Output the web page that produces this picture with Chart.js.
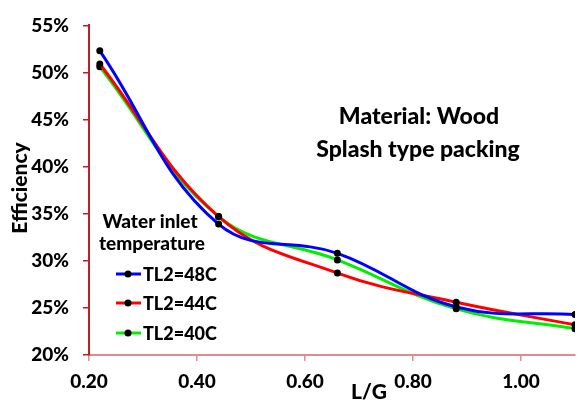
<!DOCTYPE html>
<html>
<head>
<meta charset="utf-8">
<script src="https://cdn.jsdelivr.net/npm/chart.js@4.4.0/dist/chart.umd.min.js"></script>
<style>
  html, body { margin: 0; padding: 0; background: #fff; }
  #wrap { width: 579px; height: 402px; position: relative; }
</style>
</head>
<body>
<div id="wrap"><canvas id="myChart" width="579" height="402"></canvas></div>
<script>

// data
var lgValues = [0.22, 0.44, 0.66, 0.88, 1.10];

var seriesNames = ["TL2=48C", "TL2=44C", "TL2=40C"];

var eff48 = [52.3, 33.9, 30.8, 25.1, 24.3];
var eff44 = [50.9, 34.7, 28.7, 25.6, 23.2];
var eff40 = [50.6, 34.7, 30.1, 24.9, 22.8];

var lineColors = ["#0000ff", "#ff0000", "#00ee00"];

var FONT = "Lato, 'Liberation Sans', sans-serif";
var W = "900";

function toPoints(vals) {
  return lgValues.map(function(x, i) { return { x: x, y: vals[i] }; });
}

var allSeries = [eff48, eff44, eff40];
var datasets = allSeries.map(function(vals, i) {
  return {
    label: seriesNames[i],
    data: toPoints(vals),
    borderColor: lineColors[i],
    backgroundColor: "#000",
    borderWidth: 3,
    pointRadius: 3.5,
    pointBorderWidth: 0,
    pointBackgroundColor: "#000",
    tension: 0.4,
    fill: false
  };
});

// texts + legend drawn inside the plot, like the original
var textPlugin = {
  id: "texts",
  afterDraw: function(chart) {
    var ctx = chart.ctx;
    ctx.save();
    ctx.fillStyle = "#000";
    ctx.textBaseline = "middle";

    // annotation
    ctx.textAlign = "center";
    ctx.font = W + " 23px " + FONT;
    ctx.fillText("Material: Wood", 419, 117);
    ctx.fillText("Splash type packing", 418, 150);

    // axis titles
    ctx.font = W + " 21px " + FONT;
    ctx.fillText("L/G", 369, 392);
    ctx.save();
    ctx.translate(20, 188);
    ctx.rotate(-Math.PI / 2);
    ctx.fillText("Efficiency", 0, 0);
    ctx.restore();

    // legend
    ctx.font = W + " 19px " + FONT;
    ctx.fillText("Water inlet", 150, 222);
    ctx.fillText("temperature", 152, 244);
    ctx.font = W + " 18px " + FONT;
    var ys = [274, 303, 333];
    chart.data.datasets.forEach(function(ds, i) {
      var y = ys[i];
      ctx.strokeStyle = ds.borderColor;
      ctx.lineWidth = 3;
      ctx.beginPath();
      ctx.moveTo(116, y);
      ctx.lineTo(141, y);
      ctx.stroke();
      ctx.fillStyle = "#000";
      ctx.beginPath();
      ctx.arc(128, y, 3.5, 0, Math.PI * 2);
      ctx.fill();
      ctx.textAlign = "left";
      ctx.fillText(ds.label, 143, y + 1);
    });
    ctx.restore();
  }
};

new Chart("myChart", {
  type: "line",
  data: { datasets: datasets },
  options: {
    responsive: false,
    animation: false,
    layout: { padding: { top: 21, right: 0, left: 0, bottom: 0 } },
    plugins: {
      legend: { display: false },
      tooltip: { enabled: false }
    },
    scales: {
      x: {
        type: "linear",
        min: 0.2,
        max: 1.1,
        border: { color: "#de8c8c", width: 2 },
        grid: { drawOnChartArea: false, drawTicks: true, tickLength: 6, color: "#de8c8c", lineWidth: 1.5 },
        ticks: {
          stepSize: 0.2,
          includeBounds: false,
          padding: 9,
          color: "#000",
          font: { family: FONT, size: 19, weight: W },
          callback: function(v) { return v.toFixed(2); }
        },
        afterFit: function(scale) { scale.height = 47; }
      },
      y: {
        min: 20,
        max: 55,
        border: { color: "#c01e2a", width: 2 },
        grid: { drawOnChartArea: false, drawTicks: true, tickLength: 6, color: "#c01e2a", lineWidth: 1.5 },
        ticks: {
          stepSize: 5,
          padding: 14,
          color: "#000",
          font: { family: FONT, size: 19, weight: W },
          callback: function(v) { return v + "%"; }
        },
        afterFit: function(scale) { scale.width = 89; }
      }
    }
  },
  plugins: [textPlugin]
});

</script>
</body>
</html>
